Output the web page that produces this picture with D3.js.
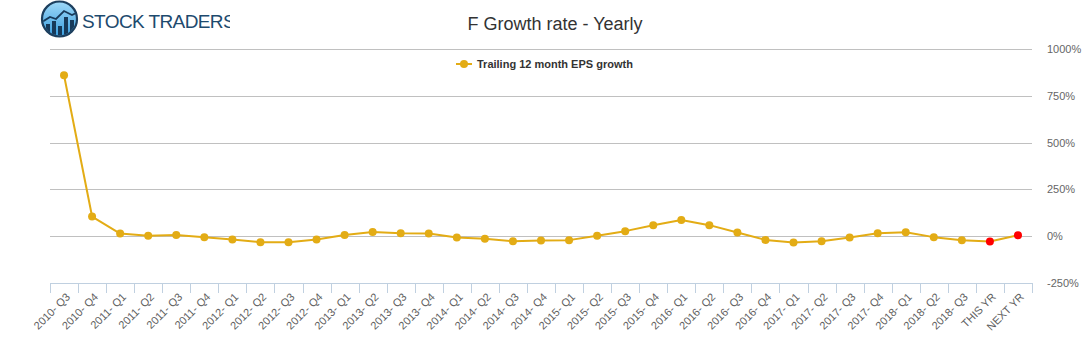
<!DOCTYPE html>
<html>
<head>
<meta charset="utf-8">
<script src="https://cdn.jsdelivr.net/npm/d3@7"></script>
<style>
  body { margin: 0; background: #fff; }
  svg { display: block; font-family: "Liberation Sans", Arial, Helvetica, sans-serif; }
</style>
</head>
<body>
<svg id="chart" width="1091" height="350"></svg>
<script>
const categories = ["2010- Q3","2010- Q4","2011- Q1","2011- Q2","2011- Q3","2011- Q4","2012- Q1","2012- Q2","2012- Q3","2012- Q4","2013- Q1","2013- Q2","2013- Q3","2013- Q4","2014- Q1","2014- Q2","2014- Q3","2014- Q4","2015- Q1","2015- Q2","2015- Q3","2015- Q4","2016- Q1","2016- Q2","2016- Q3","2016- Q4","2017- Q1","2017- Q2","2017- Q3","2017- Q4","2018- Q1","2018- Q2","2018- Q3","THIS YR","NEXT YR"];
const epsGrowth = [860,105,14,2,7,-5,-18,-32,-32,-18,7,23,16,14,-7,-14,-27,-23,-21,2,27,59,87,59,20,-20,-34,-27,-7,16,21,-5,-21,-28,5];
const estimateCategories = ["THIS YR","NEXT YR"];
const yTicks = [-250, 0, 250, 500, 750, 1000];
const seriesName = "Trailing 12 month EPS growth";
const chartTitle = "F Growth rate - Yearly";

const svg = d3.select("#chart");
const pLeft = 50, pRight = 1032, pTop = 49, pBottom = 283;

const x = d3.scaleBand().domain(categories).range([pLeft, pRight]);
const y = d3.scaleLinear().domain([-250, 1000]).range([pBottom, pTop]);

// Logo
const defs = svg.append("defs");
const logo = svg.append("g");
const grad = defs.append("linearGradient").attr("id","lg").attr("x1",0).attr("y1",0).attr("x2",0).attr("y2",1);
grad.append("stop").attr("offset","0%").attr("stop-color","#9fd8f7");
grad.append("stop").attr("offset","100%").attr("stop-color","#3a9fe0");
logo.append("circle").attr("cx",59.5).attr("cy",19).attr("r",17.5).attr("fill","url(#lg)").attr("stroke","#1d3f5e").attr("stroke-width",2.2);
defs.append("clipPath").attr("id","lc").append("circle").attr("cx",59.5).attr("cy",19).attr("r",16.4);
const lb = logo.append("g").attr("clip-path","url(#lc)");
[[46,24,4],[52,21,4],[58,26,4],[64,17,4],[70,20,4]].forEach(([bx,by,bw]) => {
  lb.append("rect").attr("x",bx).attr("y",by).attr("width",bw).attr("height",40-by).attr("fill","#173a5a");
});
lb.append("path").attr("d","M42,22 L50,17 L56,19 L64,11 L72,15 L78,12").attr("fill","none").attr("stroke","#173a5a").attr("stroke-width",1.8);
defs.append("clipPath").attr("id","tc").append("rect").attr("x",0).attr("y",0).attr("width",230).attr("height",45);
logo.append("text").attr("x",82).attr("y",27.5).attr("clip-path","url(#tc)")
  .attr("font-size",19).attr("letter-spacing","-0.6px").attr("fill","#1d4a6e")
  .text("STOCK TRADERS");

// Title
svg.append("text").attr("x",555).attr("y",30).attr("text-anchor","middle")
  .attr("font-size",18).attr("fill","#333").text(chartTitle);

// Gridlines
svg.append("g").selectAll("line").data(yTicks.filter(d => d !== -250)).join("line")
  .attr("x1",pLeft).attr("x2",pRight).attr("y1",d=>Math.round(y(d))+0.5).attr("y2",d=>Math.round(y(d))+0.5)
  .attr("stroke","#c0c0c0").attr("stroke-width",1);

// Y axis labels (right)
svg.append("g").selectAll("text").data(yTicks).join("text")
  .attr("x",1047).attr("y",d=>y(d)+4).attr("font-size",11).attr("fill","#666")
  .text(d => d + "%");

// X axis
const xAxis = d3.axisBottom(x).tickSize(0).tickFormat("");
const gx = svg.append("g").attr("transform",`translate(0,${pBottom})`).call(xAxis);
gx.select(".domain").attr("stroke","#c0d0e0").attr("d",`M${pLeft},0.5H${pRight}`);
gx.selectAll(".tick").remove();
const bounds = categories.map(c => x(c)).concat([pRight]);
gx.selectAll("line.tk").data(bounds).join("line").attr("class","tk")
  .attr("x1",d=>Math.round(d)+0.5).attr("x2",d=>Math.round(d)+0.5).attr("y1",0).attr("y2",10)
  .attr("stroke","#c0d0e0");
svg.append("g").selectAll("text").data(categories).join("text")
  .attr("transform", d => `translate(${x(d)+x.bandwidth()/2+4},${pBottom+12}) rotate(-45)`)
  .attr("text-anchor","end").attr("font-size",11).attr("fill","#606060").attr("dy","0.35em")
  .text(d => d);

// Line
const color = "#e3ac15";
const line = d3.line().x((d,i)=>x(categories[i])+x.bandwidth()/2).y(d=>y(d));
svg.append("path").datum(epsGrowth).attr("d",line).attr("fill","none")
  .attr("stroke",color).attr("stroke-width",2).attr("stroke-linejoin","round");
svg.append("g").selectAll("circle").data(epsGrowth).join("circle")
  .attr("cx",(d,i)=>x(categories[i])+x.bandwidth()/2).attr("cy",d=>y(d)).attr("r",4)
  .attr("fill",(d,i)=> estimateCategories.includes(categories[i]) ? "#ff0000" : color);

// Legend
const lg = svg.append("g");
lg.append("line").attr("x1",456).attr("x2",472).attr("y1",64).attr("y2",64).attr("stroke",color).attr("stroke-width",2);
lg.append("circle").attr("cx",464).attr("cy",64).attr("r",4).attr("fill",color);
lg.append("text").attr("x",477).attr("y",68).attr("font-size",11).attr("font-weight","bold").attr("fill","#333").text(seriesName);
</script>
</body>
</html>
